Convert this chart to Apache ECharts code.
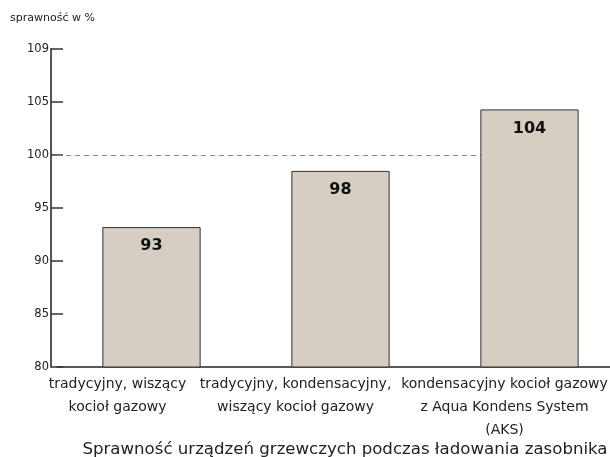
<!DOCTYPE html>
<html>
<head>
<meta charset="utf-8">
<script src="https://cdn.jsdelivr.net/npm/echarts@6/dist/echarts.min.js"></script>
<style>
    html, body { margin: 0; padding: 0; background: #fff; }
    #main { width: 610px; height: 457px; }
</style>
</head>
<body>
<div id="main"></div>
<script>
// dane z wykresu
const categories = [
    'tradycyjny, wiszący\nkocioł gazowy',
    'tradycyjny, kondensacyjny,\nwiszący kocioł gazowy',
    'kondensacyjny kocioł gazowy\nz Aqua Kondens System\n(AKS)'
];
const values = [93.2, 98.5, 104.3];
const barLabels = ['93', '98', '104'];
const tickLabels = ['80', '85', '90', '95', '100', '105', '109'];
const refLine = 100;

const FONT = 'DejaVu Sans';
// przesunięcie podpisów kategorii w lewo (px)
const labelShift = [68, 90, 50];

var rich = {};
labelShift.forEach(function (s, i) {
    rich['c' + i] = {
        fontFamily: FONT,
        fontSize: 14,
        lineHeight: 23,
        color: '#222',
        padding: [0, s, 0, 0]
    };
});

var myChart = echarts.init(document.getElementById('main'));
var option = {
    animation: false,
    textStyle: { fontFamily: FONT },
    title: {
        text: 'Sprawność urządzeń grzewczych podczas ładowania zasobnika',
        left: 340,
        textAlign: 'center',
        top: 436,
        textStyle: { fontFamily: FONT, fontSize: 16.6, fontWeight: 'normal', color: '#222' }
    },
    grid: { left: 57, width: 567, top: 49, bottom: 90, containLabel: false, outerBoundsMode: 'none' },
    xAxis: [
        {
            type: 'category',
            data: categories,
            axisLine: { lineStyle: { color: '#222', width: 1.5 } },
            axisTick: { show: false },
            axisLabel: {
                interval: 0,
                color: '#222',
                fontSize: 14,
                lineHeight: 23,
                margin: 6,
                fontFamily: FONT,
                hideOverlap: false,
                formatter: function (v, i) {
                    return v.split('\n').map(function (l) { return '{c' + i + '|' + l + '}'; }).join('\n');
                },
                rich: rich
            }
        },
        {
            // pomocnicza oś dla linii 100% (kończy się za trzecim słupkiem)
            type: 'value',
            show: false,
            min: 0,
            max: categories.length
        }
    ],
    yAxis: {
        type: 'value',
        name: 'sprawność w %',
        nameLocation: 'end',
        nameGap: 25,
        nameTextStyle: { color: '#222', fontSize: 11, fontFamily: FONT, align: 'left', padding: [0, 0, 0, -41] },
        min: 80,
        max: 110,
        interval: 5,
        offset: 6,
        axisLine: { show: true, onZero: false, lineStyle: { color: '#555', width: 2 } },
        axisTick: { show: true, inside: true, length: 12, lineStyle: { color: '#333', width: 1.5 } },
        axisLabel: {
            color: '#222',
            fontSize: 11.5,
            margin: 2,
            formatter: function (v, i) { return tickLabels[i]; }
        },
        splitLine: { show: false }
    },
    series: [
        {
            type: 'line',
            xAxisIndex: 1,
            data: [],
            z: 1,
            markLine: {
                silent: true,
                z: 1,
                symbol: 'none',
                label: { show: false },
                lineStyle: { color: '#888', type: [5, 4], width: 1 },
                data: [[
                    { coord: [0, refLine] },
                    { coord: [categories.length - 0.5, refLine] }
                ]]
            }
        },
        {
            type: 'bar',
            z: 3,
            data: values,
            barWidth: '52%',
            itemStyle: { color: '#d6cec2', borderColor: '#333', borderWidth: 1 },
            label: {
                show: true,
                position: 'insideTop',
                distance: 11,
                fontSize: 16,
                fontWeight: 'bold',
                color: '#111',
                formatter: function (p) { return barLabels[p.dataIndex]; }
            }
        }
    ]
};
myChart.setOption(option);
</script>
</body>
</html>
